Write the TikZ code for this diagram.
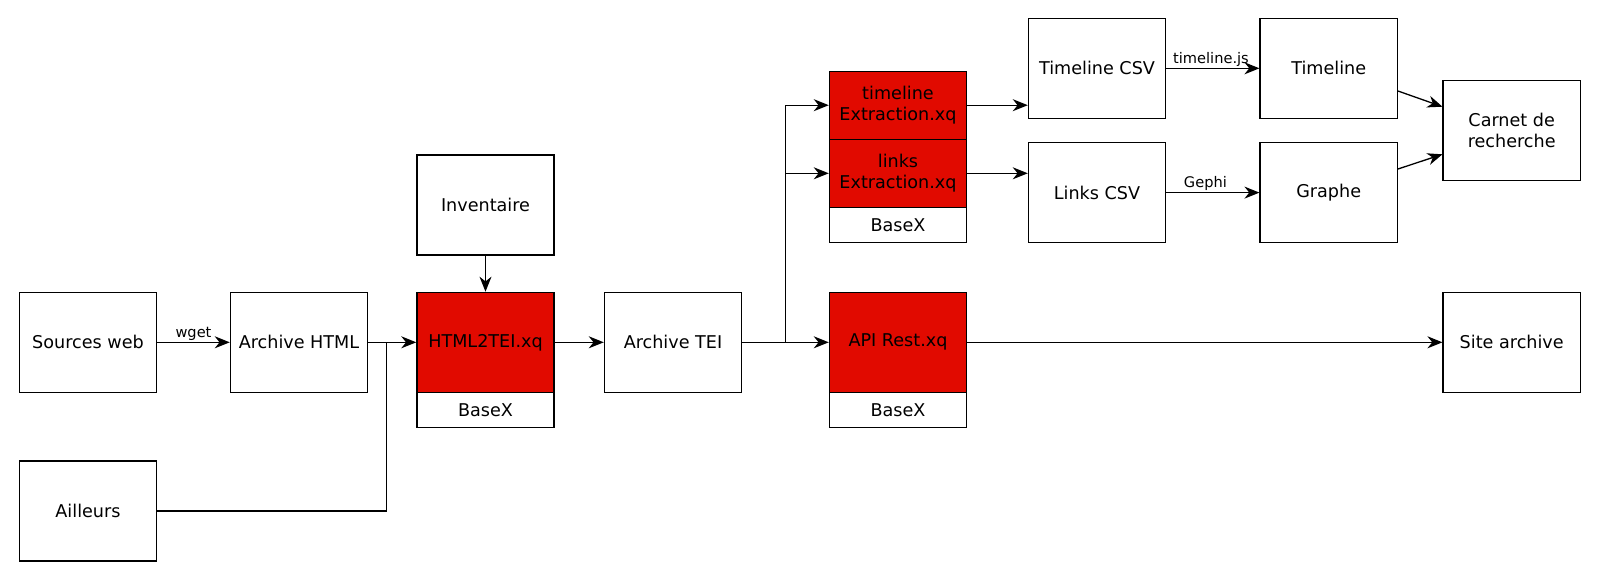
\documentclass[tikz,border=0pt]{standalone}
\usepackage{fontspec}
\setmainfont{DejaVu Sans}
\usetikzlibrary{arrows.meta}
\definecolor{boxred}{RGB}{225,10,0}
\tikzset{
  box/.style={draw, fill=white, minimum width=68.6pt, minimum height=50pt, inner sep=0pt,
    line width=0.65pt, align=center, font=\fontsize{8.8}{10.8}\selectfont},
  redbox/.style={box, fill=boxred},
  halfbox/.style={redbox, minimum height=34pt},
  basebox/.style={box, minimum height=17.5pt},
  conn/.style={line width=0.65pt, -{Stealth[length=7.5pt, width=6pt, inset=2.4pt]}},
  plain/.style={line width=0.65pt},
  lbl/.style={font=\fontsize{7.3}{8}\selectfont, inner sep=0.5pt, anchor=south}
}
\begin{document}
\begin{tikzpicture}[x=0.5pt, y=-0.5pt]
\useasboundingbox (0,0) rectangle (1600,579);
% nodes
\node[box] (src) at (88,342.3) {Sources web};
\node[box] (ail) at (88,511) {Ailleurs};
\node[box] (ahtml) at (299,342.3) {Archive HTML};
\node[box] (inv) at (485.5,205) {Inventaire};
\node[redbox] (h2t) at (485.5,342.3) {HTML2TEI.xq};
\node[basebox] (bx1) at (485.5,409.8) {BaseX};
\node[box] (atei) at (673,342.3) {Archive TEI};
\node[halfbox] (tlx) at (898,105.2) {timeline\\Extraction.xq};
\node[halfbox] (lkx) at (898,173.3) {links\\Extraction.xq};
\node[basebox] (bx2) at (898,224.8) {BaseX};
\node[redbox] (api) at (898,342.3) {API Rest.xq};
\node[basebox] (bx3) at (898,409.8) {BaseX};
\node[box] (tcsv) at (1097,68.3) {Timeline CSV};
\node[box] (lcsv) at (1097,192.6) {Links CSV};
\node[box] (tl) at (1328.7,68.3) {Timeline};
\node[box] (gr) at (1328.7,192.6) {Graphe};
\node[box] (carnet) at (1511.7,130.5) {Carnet de\\recherche};
\node[box] (site) at (1511.7,342.3) {Site archive};
% junctions
\coordinate (j1) at (386.7,342.3);
\coordinate (j2) at (785.5,342.3);
% connectors
\draw[conn] (src.east) -- node[lbl, pos=0.5] {wget} (ahtml.west);
\draw[conn] (ahtml.east) -- (h2t.west);
\draw[plain] (ail.east) -| (j1);
\draw[conn] (inv.south) -- (h2t.north);
\draw[conn] (h2t.east) -- (atei.west);
\draw[conn] (atei.east) -- (api.west);
\draw[conn] (j2) |- (tlx.west);
\draw[conn] (j2) |- (lkx.west);
\draw[conn] (tlx.east) -- (tlx.east -| tcsv.west);
\draw[conn] (lkx.east) -- (lkx.east -| lcsv.west);
\draw[conn] (tcsv.east) -- node[lbl, pos=0.48] {timeline.js} (tl.west);
\draw[conn] (lcsv.east) -- node[lbl, pos=0.42] {Gephi} (gr.west);
\draw[conn] (tl.east |- 0,91) -- (carnet.west |- 0,106.7);
\draw[conn] (gr.east |- 0,169) -- (carnet.west |- 0,154.3);
\draw[conn] (api.east) -- (site.west);
\end{tikzpicture}
\end{document}
